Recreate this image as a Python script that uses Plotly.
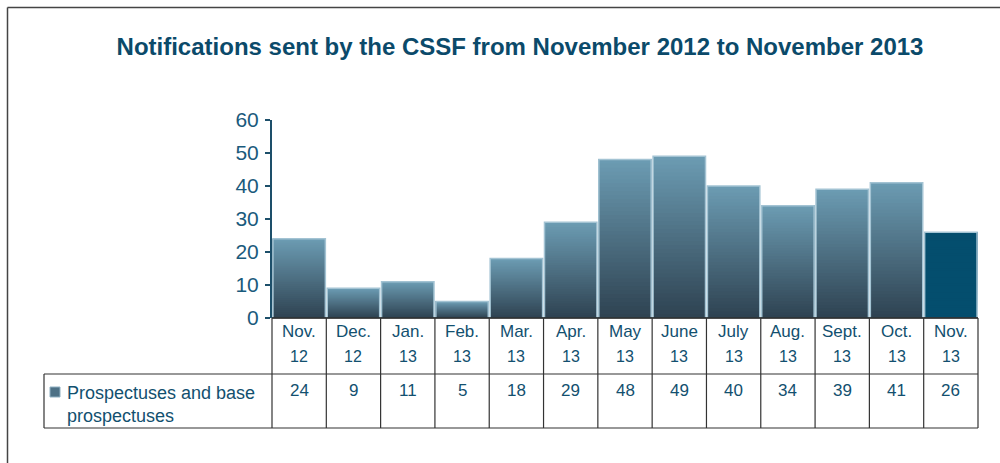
import plotly.graph_objects as go

months = ["Nov.", "Dec.", "Jan.", "Feb.", "Mar.", "Apr.", "May", "June", "July", "Aug.", "Sept.", "Oct.", "Nov."]
years = ["12", "12", "13", "13", "13", "13", "13", "13", "13", "13", "13", "13", "13"]
values = [24, 9, 11, 5, 18, 29, 48, 49, 40, 34, 39, 41, 26]
series_name = "Prospectuses and base<br>prospectuses"
title = "Notifications sent by the CSSF from November 2012 to November 2013"

W, H = 1000, 463
L, R, T, B = 272, 978, 120, 318  # plot area in px
n = len(values)
xs = list(range(n))

def px(x):
    return (x - L) / (R - L)

def py(y):
    return (B - y) / (B - T)

top_rgb = (0x6c, 0x9c, 0xb3)
bot_rgb = (0x2e, 0x42, 0x51)
last_color = "#044e6e"
text_color = "#12506f"

fig = go.Figure()
N = 40
for k in range(N):
    f = (k + 0.5) / N
    c = tuple(int(round(bot_rgb[j] + (top_rgb[j] - bot_rgb[j]) * f)) for j in range(3))
    col = "rgb(%d,%d,%d)" % c
    colors = [col] * (n - 1) + [last_color]
    fig.add_trace(go.Bar(
        x=xs, y=[v * (N - k) / N for v in values], base=[v * k / N for v in values],
        marker=dict(color=colors, line=dict(width=0)),
        showlegend=False, hoverinfo="skip"))
fig.add_trace(go.Bar(
    x=xs, y=values, base=[0] * n,
    marker=dict(color="rgba(0,0,0,0)", line=dict(width=1.5, color="#a3c3d3")),
    showlegend=False, hoverinfo="skip"))

fig.update_layout(
    width=W, height=H,
    margin=dict(l=L, r=W - R, t=T, b=H - B),
    paper_bgcolor="white", plot_bgcolor="white",
    barmode="overlay", bargap=0.035,
    font=dict(family="Liberation Sans, Arial, sans-serif", color=text_color),
    title=dict(text="<b>" + title + "</b>", x=0.52, xanchor="center", y=1 - 47 / H, yanchor="middle",
               font=dict(size=24, color="#0b4a6a")),
    xaxis=dict(range=[-0.5, n - 0.5], showticklabels=False, showgrid=False, zeroline=False,
               showline=False, ticks=""),
    yaxis=dict(range=[0, 60], dtick=10, showgrid=False, zeroline=False, showline=True,
               linecolor="#1d4f6a", linewidth=2, ticks="outside", ticklen=5, tickwidth=2,
               tickcolor="#1d4f6a", tickfont=dict(size=21, color="#1a5a7c"), ticklabelstandoff=2),
)

shapes = []
line_col = "#333333"
shapes.append(dict(type="line", xref="paper", yref="paper", x0=0, x1=1, y0=py(318), y1=py(318),
                   line=dict(color="#111111", width=1.5)))
for yy in (374, 428):
    shapes.append(dict(type="line", xref="paper", yref="paper", x0=px(44), x1=1, y0=py(yy), y1=py(yy),
                       line=dict(color=line_col, width=1.2)))
for i in range(n + 1):
    xb = i / n
    shapes.append(dict(type="line", xref="paper", yref="paper", x0=xb, x1=xb, y0=py(318), y1=py(428),
                       line=dict(color=line_col, width=1.2)))
shapes.append(dict(type="line", xref="paper", yref="paper", x0=px(44), x1=px(44), y0=py(374), y1=py(428),
                   line=dict(color=line_col, width=1.2)))
shapes.append(dict(type="rect", xref="paper", yref="paper", x0=px(50), x1=px(60), y0=py(397), y1=py(387),
                   fillcolor="#4d7186", line=dict(color="#8fb0c2", width=1)))
shapes.append(dict(type="line", xref="paper", yref="paper", x0=px(7.5), x1=px(1000), y0=py(7.5), y1=py(7.5),
                   line=dict(color="#444444", width=1.5)))
shapes.append(dict(type="line", xref="paper", yref="paper", x0=px(7.5), x1=px(7.5), y0=py(7.5), y1=py(463),
                   line=dict(color="#444444", width=1.5)))
fig.update_layout(shapes=shapes)

ann = []
for i in range(n):
    ann.append(dict(x=xs[i], y=py(331), xref="x", yref="paper", text=months[i], showarrow=False,
                    xanchor="center", yanchor="middle", font=dict(size=17, color=text_color)))
    ann.append(dict(x=xs[i], y=py(356), xref="x", yref="paper", text=years[i], showarrow=False,
                    xanchor="center", yanchor="middle", font=dict(size=16, color=text_color)))
    ann.append(dict(x=xs[i], y=py(390), xref="x", yref="paper", text=str(values[i]), showarrow=False,
                    xanchor="center", yanchor="middle", font=dict(size=17, color=text_color)))
ann.append(dict(x=px(65), y=py(404), xref="paper", yref="paper", text=series_name, showarrow=False,
                xanchor="left", yanchor="middle", align="left",
                font=dict(size=18, color=text_color)))
fig.update_layout(annotations=ann)

fig.write_html("out.html")
